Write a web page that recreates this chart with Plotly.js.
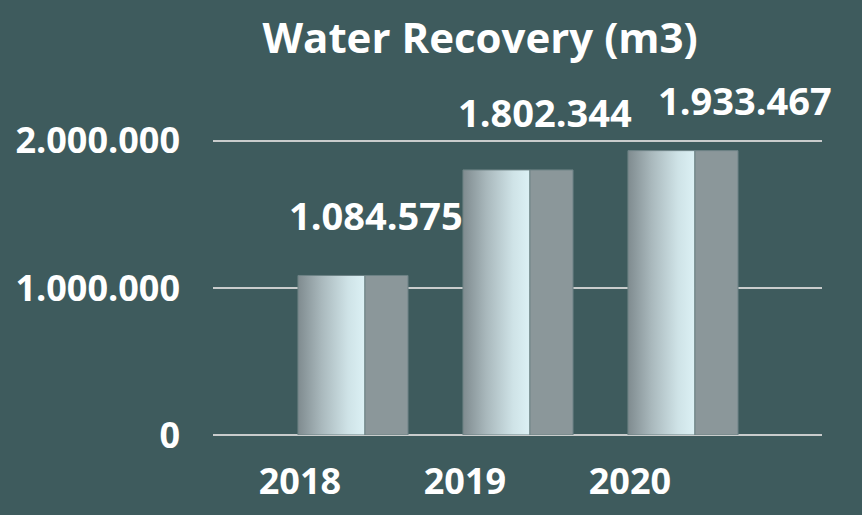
<!DOCTYPE html>
<html>
<head>
<meta charset="utf-8">
<script src="https://cdn.plot.ly/plotly-3.0.1.min.js"></script>
<style>html,body{margin:0;padding:0;background:#3e5b5d;}#chart{width:862px;height:515px;}</style>
</head>
<body>
<div id="chart"></div>
<script>
// Data
const years = ["2018", "2019", "2020"];
const recovery = [1084575, 1802344, 1933467];
const labelTexts = ["1.084.575", "1.802.344", "1.933.467"];

// Styling constants
const BG = "#3e5b5d";
const FONT = "Open Sans, Arial, sans-serif";
const xIdx = years.map((_, i) => i);
const labelDx = [0.46, 0.485, 0.697];
const labelYshift = [60, 58, 51];

const front = {
  type: "bar", x: xIdx, y: recovery,
  offset: -0.012, width: 0.406,
  marker: { color: "#c9dfe3", line: { color: "#6c8285", width: 1 } },
  hoverinfo: "skip", showlegend: false
};
const side = {
  type: "bar", x: xIdx, y: recovery,
  offset: 0.394, width: 0.261,
  marker: { color: "#8b979a", line: { color: "#6c8285", width: 1 } },
  hoverinfo: "skip", showlegend: false
};

const annotations = recovery.map((v, i) => ({
  x: i + labelDx[i], y: v, xref: "x", yref: "y",
  text: labelTexts[i], showarrow: false,
  yanchor: "middle", yshift: labelYshift[i],
  font: { family: FONT, size: 38, color: "#ffffff", weight: "bold" }
}));

const layout = {
  width: 862, height: 515,
  paper_bgcolor: BG, plot_bgcolor: BG,
  separators: ",.",
  margin: { l: 213, r: 40, t: 82, b: 80 },
  barmode: "overlay",
  title: {
    text: "Water Recovery (m3)",
    font: { family: FONT, size: 42, color: "#ffffff", weight: "bold" },
    xref: "container", x: 0.557, xanchor: "center",
    yref: "container", y: 1 - 38 / 515, yanchor: "middle"
  },
  xaxis: {
    range: [-0.527, 3.164],
    tickmode: "array", tickvals: xIdx, ticktext: years,
    showgrid: false, zeroline: false, showline: false, ticks: "",
    ticklabelstandoff: 22,
    tickfont: { family: FONT, size: 36, color: "#ffffff", weight: "bold" },
    fixedrange: true
  },
  yaxis: {
    range: [0, 2400000],
    tickvals: [0, 1000000, 2000000],
    tickformat: ",.0f",
    showgrid: true, gridcolor: "#c9cccc", gridwidth: 2,
    zeroline: true, zerolinecolor: "#c9cccc", zerolinewidth: 2,
    showline: false, ticks: "",
    ticklabelstandoff: 32,
    tickfont: { family: FONT, size: 36, color: "#ffffff", weight: "bold" },
    fixedrange: true
  },
  annotations: annotations
};

Plotly.newPlot("chart", [front, side], layout, { staticPlot: true, displayModeBar: false }).then(gd => {
  const svg = gd.querySelector(".main-svg");
  let defs = svg.querySelector("defs");
  const NS = "http://www.w3.org/2000/svg";
  const grad = document.createElementNS(NS, "linearGradient");
  grad.setAttribute("id", "barGrad");
  grad.setAttribute("x1", "0"); grad.setAttribute("x2", "1");
  grad.setAttribute("y1", "0"); grad.setAttribute("y2", "0");
  [["0", "#7f8b8f"], ["0.35", "#a9b8bc"], ["0.75", "#cfe3e7"], ["1", "#dcf1f5"]].forEach(([o, c]) => {
    const s = document.createElementNS(NS, "stop");
    s.setAttribute("offset", o); s.setAttribute("stop-color", c);
    grad.appendChild(s);
  });
  defs.appendChild(grad);
  const traces = gd.querySelectorAll(".barlayer .trace");
  if (traces.length) {
    traces[0].querySelectorAll("path").forEach(p => { p.style.fill = "url(#barGrad)"; });
  }
});
</script>
</body>
</html>
